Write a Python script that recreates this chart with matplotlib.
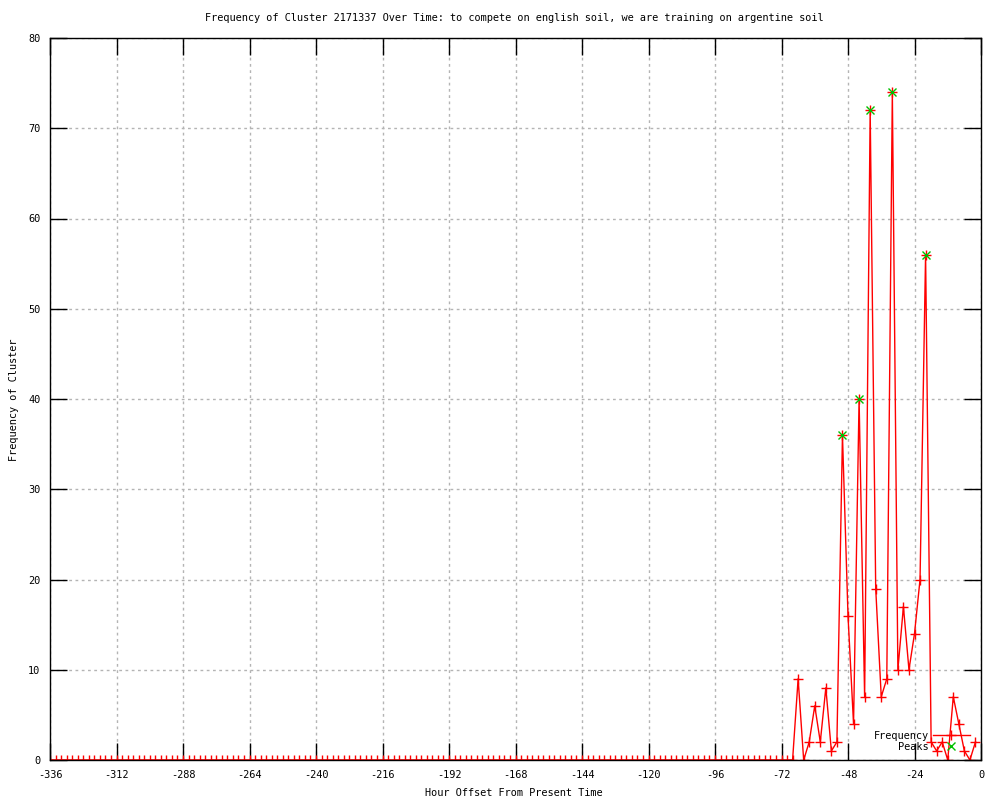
import matplotlib
matplotlib.use("Agg")
import matplotlib.pyplot as plt
from matplotlib.lines import Line2D

# ---- data ----
hours = list(range(-336, 0, 2))
freq = [0] * 135 + [
    9, 0, 2, 6, 2, 8, 1, 2, 36, 16, 4, 40, 7, 72, 19, 7, 9,
    74, 10, 17, 10, 14, 20, 56, 2, 1, 2, 0, 7, 4, 1, 0, 2,
]
peak_hours = [-50, -44, -40, -32, -20]
peak_vals = [36, 40, 72, 74, 56]
xticks = list(range(-336, 1, 24))
yticks = list(range(0, 81, 10))

title = "Frequency of Cluster 2171337 Over Time: to compete on english soil, we are training on argentine soil"
xlabel = "Hour Offset From Present Time"
ylabel = "Frequency of Cluster"

plt.rcParams['font.family'] = ['DejaVu Sans Mono']
fs = 7.4

fig = plt.figure(figsize=(10, 8), dpi=100)
ax = fig.add_axes([0.05, 0.05, 0.931, 0.9025])

ax.plot(hours, freq, color='#ff0000', lw=1.0, marker='+', markersize=7,
        markeredgewidth=1.0, zorder=3)
ax.plot(peak_hours, peak_vals, linestyle='none', marker='x', color='#00c000',
        markersize=6, markeredgewidth=1.0, zorder=4)

ax.set_xlim(-336, 0)
ax.set_ylim(0, 80)
ax.set_xticks(xticks)
ax.set_yticks(yticks)
ax.set_xticklabels([str(t) for t in xticks], fontsize=fs)
ax.set_yticklabels([str(t) for t in yticks], fontsize=fs)
ax.tick_params(direction='in', length=12, width=1, top=True, right=True,
               pad=7, colors='black')
ax.grid(True, color='#b4b4b4', linestyle=(0, (2, 2.5)), linewidth=1)
for s in ax.spines.values():
    s.set_linewidth(1)
    s.set_zorder(5)

fig.text(0.514, 0.977, title, ha='center', va='center', fontsize=fs)
fig.text(0.514, 0.009, xlabel, ha='center', va='center', fontsize=fs)
fig.text(0.014, 0.5, ylabel, ha='center', va='center', rotation=90, fontsize=fs)

handles = [
    Line2D([], [], color='#ff0000', lw=1.0, marker='+', markersize=7),
    Line2D([], [], color='#00c000', linestyle='none', marker='x', markersize=6),
]
ax.legend(handles, ['Frequency', 'Peaks'], loc='lower right',
          bbox_to_anchor=(0.997, 0.0), frameon=False, markerfirst=False,
          fontsize=fs, handlelength=3.6, handletextpad=0.4,
          labelspacing=0.1, borderpad=0.3)

fig.savefig('out.png', dpi=100)
